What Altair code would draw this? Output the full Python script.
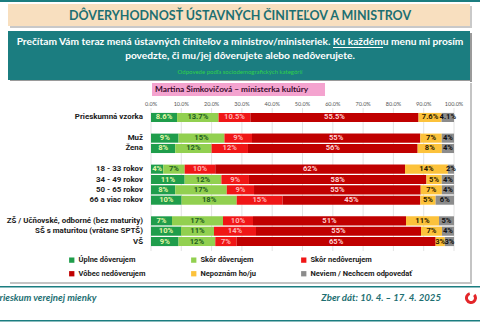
import altair as alt
import pandas as pd

# ---------------- data ----------------
groups = ["Prieskumná vzorka", " ", "Muž", "Žena", "  ", "18 - 33 rokov", "34 - 49 rokov",
          "50 - 65 rokov", "66 a viac rokov", "   ",
          "ZŠ / Učňovské, odborné (bez maturity)", "SŠ s maturitou (vrátane SPTŠ)", "VŠ"]
data_groups = ["Prieskumná vzorka", "Muž", "Žena", "18 - 33 rokov", "34 - 49 rokov",
               "50 - 65 rokov", "66 a viac rokov",
               "ZŠ / Učňovské, odborné (bez maturity)", "SŠ s maturitou (vrátane SPTŠ)", "VŠ"]
categories = ["Úplne dôverujem", "Skôr dôverujem", "Skôr nedôverujem",
              "Vôbec nedôverujem", "Nepoznám ho/ju", "Neviem / Nechcem odpovedať"]
uplne = [8.6, 9, 8, 4, 11, 8, 10, 7, 10, 9]
skor_d = [13.7, 15, 12, 7, 12, 17, 18, 17, 11, 12]
skor_n = [10.5, 9, 12, 10, 9, 9, 15, 10, 14, 7]
vobec = [55.5, 55, 56, 62, 58, 55, 45, 51, 55, 65]
nepoznam = [7.6, 7, 8, 14, 5, 7, 5, 11, 7, 3]
neviem = [4.1, 4, 4, 2, 4, 4, 6, 5, 4, 3]
tick_values = [0, 10, 20, 30, 40, 50, 60, 70, 80, 90, 100]

colors = ["#1f9d4b", "#92d050", "#f01616", "#c00000", "#fcc23b", "#8c8c8c"]
label_colors = ["#e4f6a6", "#1f5e20", "#ffb3b3", "#ffd0d0", "#2b2000", "#111111"]

series = [uplne, skor_d, skor_n, vobec, nepoznam, neviem]
rows = []
for ci, (cat, vals) in enumerate(zip(categories, series)):
    for gi, (g, v) in enumerate(zip(data_groups, vals)):
        lab = f"{v:.1f}%" if gi == 0 else f"{v:.0f}%"
        rows.append({"group": g, "category": cat, "value": v, "order": ci,
                     "label": lab, "lcolor": label_colors[ci]})
df = pd.DataFrame(rows)

ticks_df = pd.DataFrame({"t": [t / 100 for t in tick_values],
                         "tl": [f"{t:.1f}%" for t in tick_values]})
groups_df = pd.DataFrame({"group": data_groups})
one = pd.DataFrame({"a": [0]})

FONT = "Lato"
NARROW = "Roboto"
TEAL = "#1b7d80"

xscale = alt.Scale(domain=[0, 1], range=[151, 454])
yscale = alt.Scale(domain=groups, range=[112.3, 246.7], paddingInner=0.12, paddingOuter=0.06)

base = alt.Chart(df).transform_stack(
    stack="value", groupby=["group"], as_=["v0", "v1"],
    sort=[alt.SortField("order", order="ascending")], offset="normalize"
).transform_calculate(mid="(datum.v0 + datum.v1) / 2")

bars = base.mark_bar().encode(
    x=alt.X("v0:Q", scale=xscale, axis=None),
    x2="v1:Q",
    y=alt.Y("group:N", scale=yscale, axis=None),
    color=alt.Color("category:N", scale=alt.Scale(domain=categories, range=colors),
                    legend=alt.Legend(orient="none", legendX=68, legendY=256,
                                      direction="horizontal", columns=3, title=None,
                                      symbolType="square", symbolSize=28,
                                      symbolStrokeWidth=0, labelFontSize=7.5,
                                      labelFont=NARROW, labelFontWeight="bold",
                                      labelColor="#222222", columnPadding=44,
                                      rowPadding=5, padding=0, labelOffset=3)),
)

labels = base.mark_text(fontSize=7.6, fontWeight="bold", font=NARROW, baseline="middle").encode(
    x=alt.X("mid:Q", scale=xscale, axis=None),
    y=alt.Y("group:N", scale=yscale, axis=None),
    text="label:N",
    color=alt.Color("lcolor:N", scale=None),
)

grid = alt.Chart(ticks_df).mark_rule(color="#dcdcdc", strokeWidth=0.8).encode(
    x=alt.X("t:Q", scale=xscale, axis=None), y=alt.value(108), y2=alt.value(251))

tick_text = alt.Chart(ticks_df).mark_text(fontSize=5.5, color="#555555", font=FONT).encode(
    x=alt.X("t:Q", scale=xscale, axis=None), y=alt.value(104), text="tl:N")

ylab = alt.Chart(groups_df).mark_text(align="right", baseline="middle", fontSize=7.9,
                                      fontWeight="bold", font=NARROW, color="#1a1a1a").encode(
    x=alt.value(143), y=alt.Y("group:N", scale=yscale, axis=None), text="group:N")


def rect(x1, x2, y1, y2, color):
    return alt.Chart(one).mark_rect(color=color).encode(
        x=alt.value(x1), x2=alt.value(x2), y=alt.value(y1), y2=alt.value(y2))


def txt(s, x, y, size, color, weight="bold", align="center", italic=False, font=FONT):
    return alt.Chart(one).mark_text(text=s, fontSize=size, color=color, fontWeight=weight,
                                    align=align, baseline="middle", font=font,
                                    fontStyle="italic" if italic else "normal").encode(
        x=alt.value(x), y=alt.value(y))


deco = [
    rect(0, 480, 0, 2, TEAL),
    rect(10, 472, 6, 28, "#c9c9c9"),
    rect(8, 470, 4, 26, "#f8dfbf"),
    txt("DÔVERYHODNOSŤ ÚSTAVNÝCH ČINITEĽOV A MINISTROV", 240, 15.5, 12.5, "#1d6f72"),
    rect(10, 472, 33, 82, "#9a9a9a"),
    rect(8, 470, 31, 80, TEAL),
    txt("Prečítam Vám teraz mená ústavných činiteľov a ministrov/ministeriek. Ku každému menu mi prosím",
        240, 41.5, 10.2, "white"),
    rect(333, 383, 47, 47.9, "white"),
    txt("povedzte, či mu/jej dôverujete alebo nedôverujete.", 240, 55.5, 10.2, "white"),
    txt("Odpovede podľa sociodemografických kategórií", 240, 72, 6, "#2fd04a", weight="normal"),
    rect(10, 472, 83, 284, "#c4c4c4"),
    rect(8, 470, 81, 282, "white"),
    rect(152, 325, 83, 96, "#f4a3cf"),
    txt("Martina Šimkovičová – ministerka kultúry", 155, 89.5, 8.3, "#3a0b2c", align="left"),
    rect(0, 480, 286, 287.5, TEAL),
    rect(0, 480, 320, 321.5, TEAL),
    txt("Prieskum verejnej mienky", -6, 298, 9.6, "#1d6f72", align="left", italic=True),
    txt("Zber dát: 10. 4. – 17. 4. 2025", 441, 298, 9.6, "#1d6f72", align="right", italic=True),
    alt.Chart(one).mark_arc(color="#e3262a", radius=6, radius2=3, theta=0.8, theta2=6.0).encode(
        x=alt.value(471), y=alt.value(298)),
]

chart = alt.layer(*deco, grid, tick_text, ylab, bars, labels).properties(
    width=480, height=323, padding=0, autosize=alt.AutoSizeParams(type="none"),
    background="white"
).configure_view(stroke=None)

chart.save("out.html", embed_options={"renderer": "svg", "actions": False})
